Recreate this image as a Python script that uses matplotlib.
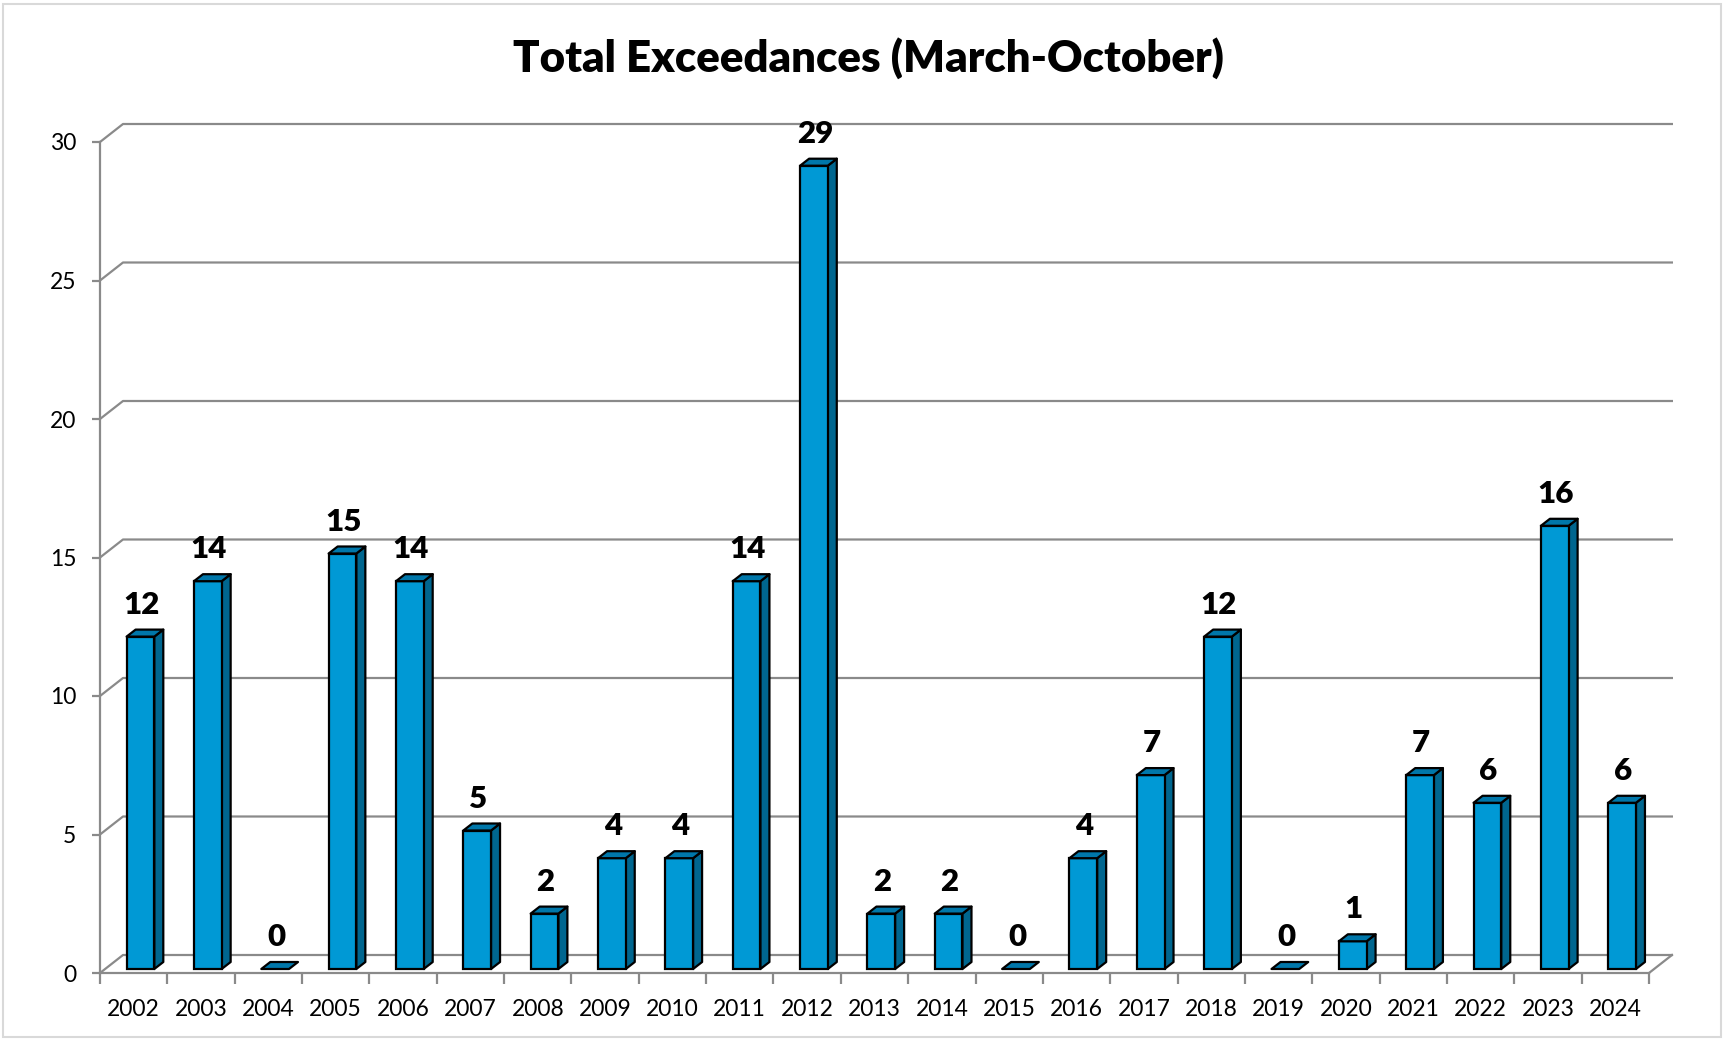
import matplotlib
matplotlib.use('Agg')
import matplotlib.pyplot as plt
from matplotlib.patches import Polygon, Rectangle

# data
years = [str(y) for y in range(2002, 2025)]
exceedances = [12, 14, 0, 15, 14, 5, 2, 4, 4, 14, 29, 2, 2, 0, 4, 7, 12, 0, 1, 7, 6, 16, 6]
y_ticks = [0, 5, 10, 15, 20, 25, 30]
title = 'Total Exceedances (March-October)'

plt.rcParams['font.family'] = ['Lato', 'DejaVu Sans']

W, H = 1729, 1041
fig = plt.figure(figsize=(W / 100, H / 100), dpi=100)
fig.patch.set_facecolor('white')

# plot area (front plane) in pixels
x0_px, x1_px = 100, 1649
y0_px, y1_px = 973, 142          # from top of image
ax = fig.add_axes([x0_px / W, (H - y0_px) / H, (x1_px - x0_px) / W, (y0_px - y1_px) / H])
n = len(years)
ax.set_xlim(0, n)
ax.set_ylim(0, 30)
ax.set_facecolor('none')

ux = (x1_px - x0_px) / n          # px per category
uy = (y0_px - y1_px) / 30.0       # px per unit

# back wall offset (depth of the 3D floor)
wall_dx = 23 / ux
wall_dy = 18 / uy
wall_right = (1673 - x0_px) / ux

grid_col = '#8a8a8a'
for v in y_ticks:
    ax.plot([0, wall_dx, wall_right], [v, v + wall_dy, v + wall_dy],
            color=grid_col, lw=1.6, zorder=1, clip_on=False, solid_capstyle='butt')
# right floor edge
ax.plot([n, n + wall_dx], [0, wall_dy], color=grid_col, lw=1.6, zorder=1, clip_on=False)

# spines / ticks
for s in ['top', 'right']:
    ax.spines[s].set_visible(False)
for s in ['left', 'bottom']:
    ax.spines[s].set_color(grid_col)
    ax.spines[s].set_linewidth(1.6)
ax.set_yticks(y_ticks)
ax.set_yticklabels([str(v) for v in y_ticks], fontsize=16.5)
ax.tick_params(axis='y', length=6, width=1.6, color=grid_col, pad=11)
ax.set_xticks(range(n + 1))
ax.set_xticklabels([])
ax.tick_params(axis='x', which='major', length=8, width=1.6, color=grid_col)
ax.set_xticks([i + 0.5 for i in range(n)], minor=True)
ax.set_xticklabels(years, minor=True, fontsize=16.5)
ax.tick_params(axis='x', which='minor', length=0, pad=19)

# bars
front_col = '#0099d5'
side_col = '#00668f'
top_col = '#0077aa'
bar_off = 0.395
bar_w = 27.7 / ux
base = 4 / uy
ddx = 9 / ux
ddy = 7 / uy

for i, v in enumerate(exceedances):
    xl = i + bar_off
    xr = xl + bar_w
    top = base + v
    if v > 0:
        side = Polygon([(xr, base), (xr + ddx, base + ddy), (xr + ddx, top + ddy), (xr, top)],
                       closed=True, facecolor=side_col, edgecolor='black', lw=1.6,
                       zorder=3, clip_on=False, joinstyle='round')
        ax.add_patch(side)
        ax.bar(xl, v, width=bar_w, bottom=base, align='edge', color=front_col,
               edgecolor='black', linewidth=1.6, zorder=4, clip_on=False)
    lid = Polygon([(xl, top), (xr, top), (xr + ddx, top + ddy), (xl + ddx, top + ddy)],
                  closed=True, facecolor=top_col, edgecolor='black', lw=1.6,
                  zorder=5, clip_on=False, joinstyle='round')
    ax.add_patch(lid)
    ax.annotate(str(v), (xl + bar_w / 2 + 1 / ux, top + ddy), xytext=(0, 11.5),
                textcoords='offset points', ha='center', va='baseline',
                fontsize=22.5, fontweight='heavy', zorder=6)

fig.text(868 / W, (H - 72) / H, title, ha='center', va='baseline',
         fontsize=31.5, fontweight='heavy')

# chart area border
fig.patches.append(Rectangle((3 / W, 4 / H), (1721 - 3) / W, (1037 - 4) / H,
                             transform=fig.transFigure, fill=False,
                             edgecolor='#d9d9d9', lw=1.5))

fig.savefig('out.png', dpi=100)
